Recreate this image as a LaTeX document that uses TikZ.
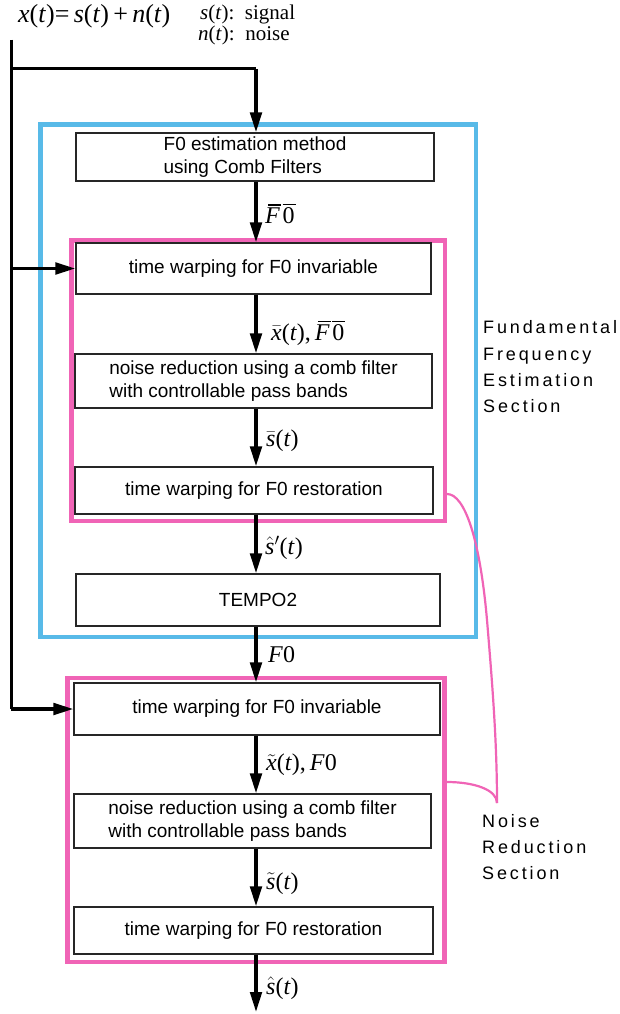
\documentclass[tikz,border=0pt]{standalone}
\usepackage{fix-cm}
\usepackage{fontspec}
\setmainfont{Liberation Serif}
\setsansfont{Liberation Sans}
\usetikzlibrary{arrows.meta}
\definecolor{pinkc}{RGB}{240,100,182}
\definecolor{bluec}{RGB}{88,186,232}
\newcommand{\tv}[1]{\textit{#1}}
\newcommand{\hb}[1]{\hbox{#1}}
\newsavebox\ovbox
\newcommand{\ovl}[2][0pt]{\sbox\ovbox{#2}\vbox{\offinterlineskip
  \hbox{\kern#1\vrule height 1.1pt depth 0pt width \dimexpr\wd\ovbox-#1+1pt\relax}%
  \kern2.2pt\copy\ovbox}}
\newcommand{\fbarzero}{\ovl[3pt]{\tv{F}}\kern1.5pt\ovl{0}}
\begin{document}
\begin{tikzpicture}[x=1pt,y=-1pt,
  boxst/.style={draw=black!85,line width=1.2pt,inner sep=0pt,
     font=\sffamily\fontsize{19}{23}\selectfont,align=left},
  arr/.style={line width=3.4pt,-{Triangle[length=20pt,width=11.5pt]}},
  feed/.style={line width=3pt},
  lab/.style={anchor=west,inner sep=0pt,font=\fontsize{24}{28}\selectfont},
  sect/.style={anchor=west,inner sep=0pt,align=left,
     font=\sffamily\fontsize{18}{26.3}\selectfont\addfontfeature{LetterSpace=16}},
  pinkbox/.style={draw=pinkc,line width=4.8pt},
  bluebox/.style={draw=bluec,line width=4.8pt},
  pinkcurve/.style={draw=pinkc,line width=2.2pt}]
\useasboundingbox (0,0) rectangle (619,1014);

% section frames
\draw[bluebox] (40.5,124.5) rectangle (476,637);
\draw[pinkbox] (71.5,240.5) rectangle (445,521);
\draw[pinkbox] (67.5,678) rectangle (444.5,962);

% header text
\node[anchor=base west,inner sep=0pt,font=\fontsize{26}{30}\selectfont] (eq) at (18,23)
  {\tv{x}(\tv{t})=\,\tv{s}(\tv{t})\,+\,\tv{n}(\tv{t})};
\node[anchor=base west,inner sep=0pt,font=\fontsize{21}{25}\selectfont] (sig) at (200,20)
  {\tv{s}(\tv{t}):\ \ signal};
\node[anchor=base west,inner sep=0pt,font=\fontsize{21}{25}\selectfont] (noi) at (198,41)
  {\tv{n}(\tv{t}):\ \ noise};

% boxes
\node[boxst,minimum width=358,minimum height=48] (b1) at (255,157)
  {F0 estimation method\\using Comb Filters};
\node[boxst,minimum width=355,minimum height=51] (b2) at (253.5,268.5)
  {time warping for F0 invariable};
\node[boxst,minimum width=357,minimum height=54] (b3) at (253.5,381)
  {noise reduction using a comb filter\\with controllable pass bands};
\node[boxst,minimum width=358,minimum height=47] (b4) at (254,490.5)
  {time warping for F0 restoration};
\node[boxst,minimum width=364,minimum height=52] (b5) at (258,600)
  {TEMPO2};
\node[boxst,minimum width=366,minimum height=52] (b6) at (257,709)
  {time warping for F0 invariable};
\node[boxst,minimum width=357,minimum height=54] (b7) at (252.5,821)
  {noise reduction using a comb filter\\with controllable pass bands};
\node[boxst,minimum width=359,minimum height=47] (b8) at (253.5,930.5)
  {time warping for F0 restoration};

% coordinates
\coordinate (xa) at (256,0);
\coordinate (src) at (11,40);
\coordinate (turn) at (256,69);
\coordinate (out) at (256,1012);

% main flow
\draw[feed] (src) |- (turn);
\draw[arr] (turn) -- (b1.north -| xa);
\draw[arr] (b1.south -| xa) -- (b2.north -| xa);
\draw[arr] (b2.south -| xa) -- (b3.north -| xa);
\draw[arr] (b3.south -| xa) -- (b4.north -| xa);
\draw[arr] (b4.south -| xa) -- (b5.north -| xa);
\draw[arr] (b5.south -| xa) -- (b6.north -| xa);
\draw[arr] (b6.south -| xa) -- (b7.north -| xa);
\draw[arr] (b7.south -| xa) -- (b8.north -| xa);
\draw[arr] (b8.south -| xa) -- (out);

% feed lines
\draw[feed] (src) -- (b6.west -| src);
\draw[arr] (b6.west -| src) -- (b6.west);
\draw[arr] (b2.west -| src) -- (b2.west);

% labels
\node[lab] (l1) at (265,214) {\fbarzero};
\node[lab] (l2) at (271,333) {$\bar{\hb{\tv{x}}}$(\tv{t}),\,\fbarzero};
\node[lab] (l3) at (266,441) {$\bar{\hb{\tv{s}}}$(\tv{t})};
\node[lab] (l4) at (265,548) {$\hat{\hb{\tv{s}}}$$'$(\tv{t})};
\node[lab] (l5) at (268,655) {\tv{F}0};
\node[lab] (l6) at (266,765) {$\tilde{\hb{\tv{x}}}$(\tv{t}),\,\tv{F}0};
\node[lab] (l7) at (266,884) {$\tilde{\hb{\tv{s}}}$(\tv{t})};
\node[lab] (l8) at (266,988) {$\hat{\hb{\tv{s}}}$(\tv{t})};

% section labels
\node[sect] (fes) at (483,367) {Fundamental\\Frequency\\Estimation\\Section};
\node[sect] (nrs) at (482,847) {Noise\\Reduction\\Section};

% bracket curve
\draw[pinkcurve] (447,494) .. controls (465,494) and (480,540) .. (487,620)
  .. controls (492,680) and (497,740) .. (497,803);
\draw[pinkcurve] (446.5,782) .. controls (475,782) and (497,790) .. (497,803);
\end{tikzpicture}
\end{document}
